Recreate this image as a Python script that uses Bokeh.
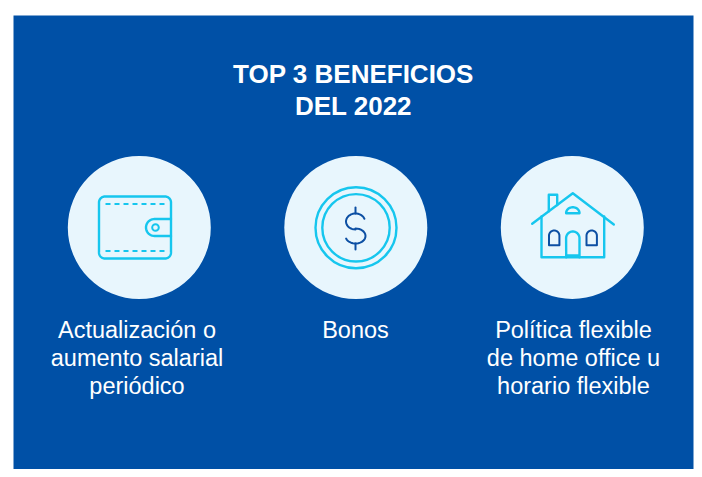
import numpy as np
from bokeh.plotting import figure
from bokeh.embed import file_html
from bokeh.resources import INLINE
from bokeh.core.properties import value

title_lines = ["TOP 3 BENEFICIOS", "DEL 2022"]
benefit_1 = ["Actualización o", "aumento salarial", "periódico"]
benefit_2 = ["Bonos"]
benefit_3 = ["Política flexible", "de home office u", "horario flexible"]
benefits = [benefit_1, benefit_2, benefit_3]
label_centres = [136.5, 355, 573]
circle_centres = [138.8, 355.3, 571.8]

BLUE = "#0050a6"
PALE = "#e8f6fd"
CYAN = "#16c6ee"
DARK = "#0c4fa3"
FONT = value("Liberation Sans")

p = figure(width=694, height=469, x_range=(0, 694), y_range=(469, 0),
           output_backend="svg", toolbar_location=None, min_border=0,
           outline_line_color=None, background_fill_color="white", border_fill_color="white")
p.axis.visible = False
p.grid.visible = False


def arc(cx, cy, rx, ry, a0, a1, n=24):
    t = np.radians(np.linspace(a0, a1, n))
    return cx + rx * np.cos(t), cy + ry * np.sin(t)


def chain(*parts):
    return (np.concatenate([np.atleast_1d(a[0]) for a in parts]),
            np.concatenate([np.atleast_1d(a[1]) for a in parts]))


def stroke(xy, color=CYAN, width=2.4, **kw):
    p.line(list(xy[0]), list(xy[1]), line_color=color, line_width=width,
           line_join="round", line_cap="round", **kw)


p.quad(left=13, right=693, top=15, bottom=469, fill_color=BLUE, line_color=None)
p.circle(x=circle_centres, y=[227] * 3, radius=71.5, fill_color=PALE, line_color=None)

# wallet
L, R, T, B, r = 98.5, 170.5, 196, 258, 6
stroke(chain(arc(L + r, T + r, r, r, 180, 270), arc(R - r, T + r, r, r, 270, 360),
             arc(R - r, B - r, r, r, 0, 90), arc(L + r, B - r, r, r, 90, 180),
             ([L], [T + r])))
for y in (203.5, 250.5):
    p.line([105, 167], [y, y], line_color=CYAN, line_width=2.0, line_dash="5 4")
stroke(chain(([R], [218.5]), arc(154, 227, 8.5, 8.5, 270, 90), ([R], [235.5])))
p.circle(x=[155], y=[227], radius=3.3, fill_color=None, line_color=CYAN, line_width=2.0)

# coin
p.circle(x=[355.5, 355.5], y=[227.3, 227.3], radius=[40.5, 33.7], fill_color=None,
         line_color=CYAN, line_width=2.4)
stroke(chain(arc(355, 221, 9.5, 8, -20, -270), arc(355, 235.5, 10, 7.5, -90, 160)),
       color=DARK, width=2.0)
stroke(([355, 355], [207, 213]), color=DARK, width=2.0)
stroke(([355, 355], [243, 249]), color=DARK, width=2.0)

# house
stroke(([531.7, 572.3, 613.3], [223.3, 192.7, 224]))
stroke(([541, 541, 603.7, 603.7], [216, 256.7, 256.7, 216]))
stroke(([548.3, 548.3, 556.7, 556.7], [210.8, 194.3, 194.3, 204.5]))
stroke(chain(([565.7], [256.7]), arc(572.3, 237.7, 6.7, 6.7, 180, 360), ([579], [256.7])))
p.line([565.7, 579], [255.3, 255.3], line_color=CYAN, line_width=3)
stroke(chain(arc(572.3, 212.7, 6.7, 6, 180, 360), ([565.7], [212.7])))
for cx in (553.7, 591.2):
    stroke(chain(([cx - 5.2], [244.7]), arc(cx, 235.2, 5.2, 5.2, 180, 360),
                 ([cx + 5.2], [244.7]), ([cx - 5.2], [244.7]), ([cx - 5.2], [235.2])),
           color=DARK, width=2.0)

# text
p.text(x=[353, 353], y=[73, 105], text=title_lines, text_color="white", text_font=FONT,
       text_font_size="26px", text_font_style="bold", text_align="center",
       text_baseline="alphabetic")
for cx, lines in zip(label_centres, benefits):
    p.text(x=[cx] * len(lines), y=[329 + 28 * i for i in range(len(lines))], text=lines,
           text_color="white", text_font=FONT, text_font_size="23.5px",
           text_align="center", text_baseline="alphabetic")

open("out.html", "w").write(file_html(p, INLINE))
